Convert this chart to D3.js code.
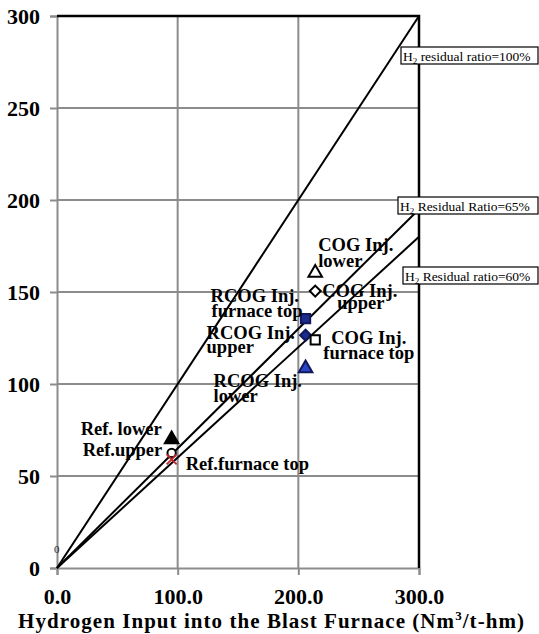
<!DOCTYPE html>
<html>
<head>
<meta charset="utf-8">
<script src="https://cdn.jsdelivr.net/npm/d3@7/dist/d3.min.js"></script>
<style>
  html, body { margin: 0; padding: 0; background: #fff; }
  svg { display: block; }
  text { font-family: "Liberation Serif", "Times New Roman", serif; }
</style>
</head>
<body>
<svg id="chart" width="539" height="634"></svg>
<script>
// Hydrogen input vs. hydrogen in top gas, per operating case
const seriesNames = [
  "Ref. lower", "Ref.upper", "Ref.furnace top",
  "RCOG Inj. furnace top", "RCOG Inj. upper", "RCOG Inj. lower",
  "COG Inj. lower", "COG Inj. upper", "COG Inj. furnace top"
];
const hydrogenInput  = [95, 95, 95, 206, 206, 206, 214, 214, 214];
const hydrogenOutput = [70.5, 62.5, 59, 135.5, 126.5, 109, 161, 150.5, 124];

// Reference lines y = ratio * x
const residualRatios = [1.00, 0.65, 0.60];
const ratioLabels = ["residual ratio=100%", "Residual Ratio=65%", "Residual ratio=60%"];

const xTicks = [0, 100, 200, 300];
const yTicks = [0, 50, 100, 150, 200, 250, 300];
const xDomain = [0, 300];
const yDomain = [0, 300];
const xTitle = "Hydrogen Input into the Blast Furnace (Nm";
const xTitleUnit = "/t-hm)";

const svg = d3.select("#chart");
const x = d3.scaleLinear().domain(xDomain).range([57, 419]);
const y = d3.scaleLinear().domain(yDomain).range([568, 16]);

// grid
const grid = svg.append("g").attr("stroke", "#8c8c8c").attr("stroke-width", 2);
grid.selectAll("line.h").data(yTicks.filter(v => v > 0 && v < 300)).join("line")
  .attr("x1", x(0)).attr("x2", x(300)).attr("y1", d => y(d)).attr("y2", d => y(d));
grid.selectAll("line.v").data(xTicks.filter(v => v > 0 && v < 300)).join("line")
  .attr("y1", y(0)).attr("y2", y(300)).attr("x1", d => x(d)).attr("x2", d => x(d));

// axes
const yAxis = svg.append("g").attr("transform", `translate(${x(0)},0)`)
  .call(d3.axisLeft(y).tickValues(yTicks).tickFormat(d3.format("d")).tickSize(7).tickPadding(10));
const xAxis = svg.append("g").attr("transform", `translate(0,${y(0)})`)
  .call(d3.axisBottom(x).tickValues(xTicks).tickFormat(d3.format(".1f")).tickSize(7).tickPadding(9));
[yAxis, xAxis].forEach(g => {
  g.select(".domain").attr("stroke", "#8c8c8c").attr("stroke-width", 2);
  g.selectAll(".tick line").attr("stroke", "#8c8c8c").attr("stroke-width", 2);
  g.selectAll(".tick text").attr("fill", "#000").attr("font-size", 22).attr("font-weight", "bold");
});
xAxis.selectAll(".tick text").attr("dy", "0.9em");

// top and right frame
svg.append("path")
  .attr("d", `M${x(0)},${y(300)}H${x(300)}V${y(0)}`)
  .attr("fill", "none").attr("stroke", "#000").attr("stroke-width", 2.5);

// ratio lines
svg.append("g").selectAll("line").data(residualRatios).join("line")
  .attr("x1", x(0)).attr("y1", y(0))
  .attr("x2", x(300)).attr("y2", r => y(300 * r))
  .attr("stroke", "#000").attr("stroke-width", 2);

// small origin mark
svg.append("text").attr("x", x(0) - 3).attr("y", y(0) - 15)
  .attr("font-size", 11).attr("fill", "#222").text("0");

// markers
const markerStyle = {
  "Ref. lower":            { type: "tri",  fill: "#000", stroke: "#000" },
  "Ref.upper":             { type: "circ", fill: "#fff", stroke: "#000" },
  "Ref.furnace top":       { type: "x",    fill: "none", stroke: "#c0262d" },
  "RCOG Inj. furnace top": { type: "sq",   fill: "#1c2a8c", stroke: "#10185a" },
  "RCOG Inj. upper":       { type: "dia",  fill: "#1c2a8c", stroke: "#10185a" },
  "RCOG Inj. lower":       { type: "tri",  fill: "#2a44c4", stroke: "#10185a" },
  "COG Inj. lower":        { type: "tri",  fill: "#fff", stroke: "#000" },
  "COG Inj. upper":        { type: "dia",  fill: "#fff", stroke: "#000" },
  "COG Inj. furnace top":  { type: "sq",   fill: "#fff", stroke: "#000" }
};
const symbolPath = {
  tri:  d3.symbol(d3.symbolTriangle, 80)(),
  circ: d3.symbol(d3.symbolCircle, 55)(),
  sq:   d3.symbol(d3.symbolSquare, 85)(),
  dia:  d3.symbol(d3.symbolSquare, 60)(),
  x:    "M-5,-5L5,5M-5,5L5,-5"
};
const pts = seriesNames.map((n, i) => ({ name: n, xv: hydrogenInput[i], yv: hydrogenOutput[i] }));
svg.append("g").selectAll("path").data(pts).join("path")
  .attr("transform", d => {
    const s = markerStyle[d.name];
    const dy = s.type === "tri" ? 1 : 0;
    return `translate(${x(d.xv)},${y(d.yv) + dy})` + (s.type === "dia" ? " rotate(45)" : "");
  })
  .attr("d", d => symbolPath[markerStyle[d.name].type])
  .attr("fill", d => markerStyle[d.name].fill)
  .attr("stroke", d => markerStyle[d.name].stroke)
  .attr("stroke-width", d => markerStyle[d.name].type === "x" ? 1.8 : 2);

// point labels: line offsets relative to each marker
const labelLayout = {
  "Ref. lower":            [[-91, -3, "Ref. lower"]],
  "Ref.upper":             [[-89, 3, "Ref.upper"]],
  "Ref.furnace top":       [[14, 11, "Ref.furnace top"]],
  "RCOG Inj. furnace top": [[-95, -17, "RCOG Inj."], [-94, -2, "furnace top"]],
  "RCOG Inj. upper":       [[-99, 4, "RCOG Inj."], [-99, 18, "upper"]],
  "RCOG Inj. lower":       [[-92, 20, "RCOG Inj."], [-92, 35, "lower"]],
  "COG Inj. lower":        [[3, -21, "COG Inj."], [3, -5, "lower"]],
  "COG Inj. upper":        [[7, 6, "COG Inj."], [22, 18, "upper"]],
  "COG Inj. furnace top":  [[16, 4, "COG Inj."], [8, 19, "furnace top"]]
};
const lbl = svg.append("g").attr("font-size", 18.5).attr("font-weight", "bold").attr("fill", "#000");
pts.forEach(p => {
  labelLayout[p.name].forEach(([dx, dy, t]) => {
    lbl.append("text").attr("x", x(p.xv) + dx).attr("y", y(p.yv) + dy).text(t);
  });
});

// ratio line labels in boxes at the right edge
const boxLayout = [
  { left: 401, top: 47 },
  { left: 398, top: 197 },
  { left: 403, top: 267 }
];
residualRatios.forEach((r, i) => {
  const g = svg.append("g");
  const rect = g.append("rect").attr("fill", "#fff").attr("stroke", "#000").attr("stroke-width", 1.2);
  const t = g.append("text").attr("font-size", 13.5).attr("fill", "#000")
    .attr("x", boxLayout[i].left + 2).attr("y", boxLayout[i].top + 13.5);
  t.append("tspan").text("H");
  t.append("tspan").attr("font-size", 9).attr("dy", 3).text("2");
  t.append("tspan").attr("dy", -3).text(" " + ratioLabels[i]);
  rect.attr("x", boxLayout[i].left).attr("y", boxLayout[i].top)
    .attr("width", 538 - boxLayout[i].left).attr("height", 17);
});

// x-axis title, letters spread so it spans the chart width
const title = svg.append("text").attr("x", 18).attr("y", 628)
  .attr("font-size", 21).attr("font-weight", "bold");
title.append("tspan").text(xTitle);
title.append("tspan").attr("font-size", 13).attr("dy", -8).text("3");
title.append("tspan").attr("dy", 8).text(xTitleUnit);
const titleWidth = title.node().getComputedTextLength();
const nChars = (xTitle + "3" + xTitleUnit).length;
title.attr("letter-spacing", Math.max(0, (507 - titleWidth) / nChars));
</script>
</body>
</html>
